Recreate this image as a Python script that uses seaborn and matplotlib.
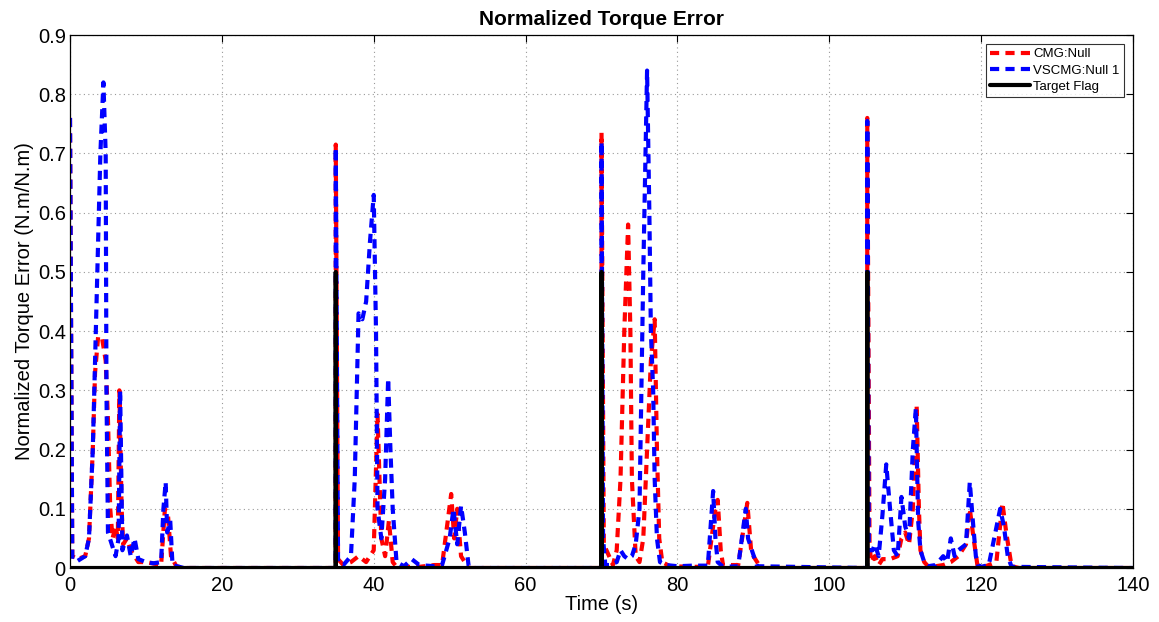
import numpy as np
import pandas as pd
import seaborn as sns
import matplotlib.pyplot as plt

# values
cmg_t = [0, 0.3, 1, 2, 2.5, 3, 3.3, 3.7, 4.2, 4.7, 5, 5.3, 5.6, 6.0, 6.3, 6.5, 6.8, 7, 7.5, 8, 9, 10, 12,
         12.5, 12.9, 13.3, 14, 15,
         34.99, 35, 35.3, 36, 37, 38, 39, 40, 40.5, 41, 41.5, 42, 42.5, 43, 46, 48, 49, 50.2, 50.6, 51, 51.5, 52, 52.5,
         69.99, 70, 70.3, 71, 71.5, 72, 72.5, 73, 73.5, 73.8, 74, 74.5, 75, 75.5, 76, 76.5, 77, 77.3, 77.6, 78, 79,
         82, 84, 85, 85.3, 85.7, 86, 88, 89.2, 89.7, 90, 91,
         104.99, 105, 105.3, 105.5, 106, 106.5, 107, 108, 109, 109.5, 110, 110.5, 111, 111.5, 111.8, 112, 112.5,
         113, 114, 115, 116, 117, 118, 118.5, 119, 119.5, 120, 121, 122, 122.8, 123.3, 124, 125, 140]
cmg_v = [0.76, 0.02, 0.015, 0.02, 0.05, 0.2, 0.33, 0.39, 0.39, 0.35, 0.25, 0.1, 0.05, 0.07, 0.05, 0.3, 0.1, 0.04,
         0.05, 0.03, 0.01, 0.01, 0.005, 0.1, 0.09, 0.02, 0.003, 0,
         0, 0.715, 0.015, 0.005, 0.01, 0.02, 0.01, 0.03, 0.26, 0.05, 0.02, 0.08, 0.01, 0.002, 0.002, 0.005, 0.005,
         0.125, 0.05, 0.1, 0.02, 0.01, 0,
         0, 0.735, 0.04, 0.02, 0.005, 0.03, 0.15, 0.4, 0.58, 0.4, 0.15, 0.02, 0.01, 0.05, 0.2, 0.35, 0.42, 0.2,
         0.05, 0.01, 0.003, 0.002, 0.002, 0.1, 0.115, 0.03, 0.005, 0.005, 0.11, 0.03, 0.02, 0,
         0, 0.76, 0.04, 0.01, 0.02, 0.005, 0.015, 0.015, 0.02, 0.05, 0.06, 0.04, 0.1, 0.275, 0.1, 0.03, 0.01,
         0.003, 0.003, 0.005, 0.01, 0.02, 0.04, 0.1, 0.05, 0.005, 0, 0.005, 0.01, 0.11, 0.06, 0.003, 0, 0]

vscmg_t = [0, 0.3, 1, 2, 2.5, 3, 3.5, 4, 4.4, 4.7, 4.8, 5, 5.5, 6, 6.4, 6.6, 6.9, 7.5, 8, 8.5, 9, 10, 11, 12,
           12.3, 12.6, 12.8, 13.2, 13.5, 15,
           34.99, 35, 35.3, 36, 37, 37.5, 38, 38.5, 39, 39.5, 40, 40.3, 40.5, 41, 41.5, 41.9, 42.2, 42.5, 43, 44,
           45, 46, 48, 49, 50, 50.5, 51, 51.5, 52, 52.5, 53,
           69.99, 70, 70.2, 70.5, 71, 72, 72.5, 73, 73.5, 74, 74.5, 75, 75.5, 76, 76.3, 76.5, 76.8, 77, 77.3, 77.7,
           78.5, 80, 82, 84, 84.7, 85, 85.3, 86, 88, 89, 89.3, 89.8, 90.5,
           104.99, 105, 105.2, 105.7, 106, 106.5, 107, 107.5, 108, 108.5, 109, 109.5, 110, 110.5, 111, 111.4, 111.7,
           112, 112.5, 113, 114, 115, 115.5, 116, 116.5, 117, 118, 118.5, 118.9, 119.3, 119.6, 120, 121, 122.5,
           123, 123.5, 124, 140]
vscmg_v = [0.76, 0.015, 0.012, 0.02, 0.05, 0.2, 0.45, 0.7, 0.82, 0.7, 0.3, 0.06, 0.04, 0.02, 0.05, 0.3, 0.03,
           0.055, 0.02, 0.05, 0.015, 0.01, 0.008, 0.01, 0.1, 0.145, 0.06, 0.08, 0.005, 0,
           0, 0.71, 0.01, 0.005, 0.02, 0.15, 0.43, 0.42, 0.45, 0.55, 0.63, 0.4, 0.1, 0.05, 0.15, 0.32, 0.2, 0.1,
           0.01, 0.003, 0.015, 0.005, 0.003, 0.005, 0.05, 0.1, 0.04, 0.105, 0.06, 0.003, 0,
           0, 0.72, 0.05, 0.005, 0.005, 0.01, 0.03, 0.02, 0.015, 0.02, 0.04, 0.1, 0.5, 0.84, 0.6, 0.4, 0.3, 0.15,
           0.05, 0.01, 0.005, 0.003, 0.004, 0.004, 0.13, 0.05, 0.01, 0.002, 0.003, 0.1, 0.05, 0.03, 0.003,
           0, 0.755, 0.03, 0.03, 0.04, 0.02, 0.09, 0.175, 0.1, 0.03, 0.02, 0.12, 0.07, 0.05, 0.2, 0.27, 0.08, 0.03,
           0.01, 0.003, 0.005, 0.02, 0.01, 0.05, 0.02, 0.03, 0.04, 0.145, 0.08, 0.02, 0.005, 0.002, 0.005, 0.1,
           0.07, 0.02, 0.002, 0]

flag_t = [0, 34.99, 35, 35.01, 69.99, 70, 70.01, 104.99, 105, 105.01, 140]
flag_v = [0, 0, 0.5, 0, 0, 0.5, 0, 0, 0.5, 0, 0]

sns.set_style("white")
plt.rcParams['font.family'] = ['Liberation Sans', 'DejaVu Sans']
plt.rcParams['text.color'] = 'black'
plt.rcParams['axes.labelcolor'] = 'black'
plt.rcParams['xtick.color'] = 'black'
plt.rcParams['ytick.color'] = 'black'

fig, ax = plt.subplots(figsize=(11.59, 6.22), dpi=100)
fig.subplots_adjust(left=0.0604, right=0.9776, bottom=0.0868, top=0.9437)

sns.lineplot(x=cmg_t, y=cmg_v, ax=ax, color='#ff0000', lw=3.0, sort=False,
             estimator=None, label='CMG:Null')
sns.lineplot(x=vscmg_t, y=vscmg_v, ax=ax, color='#0000ff', lw=3.0, sort=False,
             estimator=None, label='VSCMG:Null 1')
sns.lineplot(x=flag_t, y=flag_v, ax=ax, color='black', lw=3.0, sort=False,
             estimator=None, label='Target Flag')
ax.lines[0].set_dashes((2.2, 1.5))
ax.lines[1].set_dashes((2.2, 1.5))

ax.set_xlim(0, 140)
ax.set_ylim(0, 0.9)
ax.set_xticks(np.arange(0, 141, 20))
ax.set_yticks(np.arange(0, 0.91, 0.1))
ax.set_yticklabels(['0'] + ['%.1f' % v for v in np.arange(0.1, 0.91, 0.1)])
ax.grid(True, linestyle=(0, (1, 3)), color='#999999', linewidth=0.8)
ax.tick_params(direction='in', top=True, right=True, labelsize=14.5, length=5, width=0.8)
ax.tick_params(axis='x', pad=6)
ax.tick_params(axis='y', pad=3)
for s in ax.spines.values():
    s.set_color('black')
    s.set_linewidth(0.9)

ax.set_title('Normalized Torque Error', fontsize=15, fontweight='bold', pad=7)
ax.set_xlabel('Time (s)', fontsize=14.5, labelpad=0)
ax.set_ylabel('Normalized Torque Error (N.m/N.m)', fontsize=14.5, labelpad=3)

leg = ax.legend(loc='upper right', fontsize=9.5, frameon=True, fancybox=False, handlelength=3.0,
                borderpad=0.3, labelspacing=0.3, handletextpad=0.3, borderaxespad=0.7)
leg.get_frame().set_edgecolor('black')
leg.get_frame().set_linewidth(0.8)
for h in leg.get_lines():
    h.set_linewidth(3.0)

plt.savefig('out.png', dpi=100)
